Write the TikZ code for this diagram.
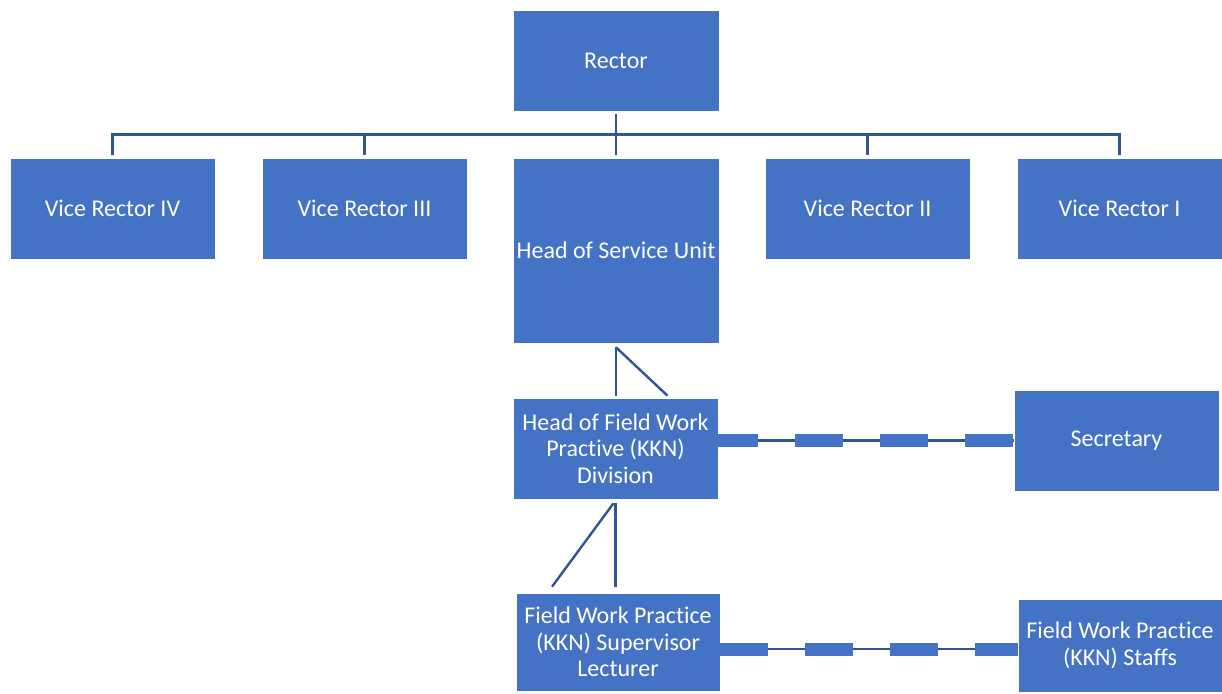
\documentclass[tikz,border=0pt]{standalone}
\usepackage{fontspec}
\setmainfont[Ligatures=NoCommon]{Carlito}
\definecolor{boxblue}{RGB}{68,114,196}
\definecolor{linkblue}{RGB}{47,85,151}
\begin{document}
\begin{tikzpicture}[x=1pt,y=1pt,
  box/.style={fill=boxblue,draw=white,line width=0.6pt,inner sep=0pt,align=center,
    text=white,font=\fontsize{24}{26.5}\selectfont},
  conn/.style={draw=linkblue,line width=2.8pt},
  thinlink/.style={draw=linkblue,line width=2.4pt},
  thicklink/.style={draw=boxblue,line width=13pt,dash pattern=on 48pt off 37pt}
]
\useasboundingbox (0,0) rectangle (1222,-693);
% nodes
\node[box,minimum width=206pt,minimum height=101pt] (rec) at (616,-60.5) {Rector};
\node[box,minimum width=205pt,minimum height=101pt] (vr4) at (112.5,-208.5) {Vice Rector IV};
\node[box,minimum width=205pt,minimum height=101pt] (vr3) at (364.5,-208.5) {Vice Rector III};
\node[box,minimum width=206pt,minimum height=185pt] (hsu) at (616,-250.5) {Head of Service Unit};
\node[box,minimum width=205pt,minimum height=101pt] (vr2) at (867.5,-208.5) {Vice Rector II};
\node[box,minimum width=205pt,minimum height=101pt] (vr1) at (1119.5,-208.5) {Vice Rector I};
\node[box,minimum width=205pt,minimum height=101pt] (hfw) at (615.5,-448.5) {Head of Field Work\\Practive (KKN)\\Division};
\node[box,minimum width=205pt,minimum height=101pt] (sec) at (1116.5,-440.5) {Secretary};
\node[box,minimum width=204pt,minimum height=98pt] (sup) at (618,-642) {Field Work Practice\\(KKN) Supervisor\\Lecturer};
\node[box,minimum width=204pt,minimum height=93pt] (stf) at (1120,-645.5) {Field Work Practice\\(KKN) Staffs};
% tree connectors
\coordinate (busL) at ([yshift=23pt]vr4.north);
\coordinate (busR) at ([yshift=23pt]vr1.north);
\draw[conn] ([yshift=3pt]vr4.north) -- (busL) -- (busR) -- ([yshift=3pt]vr1.north);
\draw[conn] ([yshift=3pt]vr3.north) -- (vr3.north |- busL);
\draw[conn] ([yshift=3pt]vr2.north) -- (vr2.north |- busL);
\draw[conn] ([yshift=-3pt]rec.south) -- ([yshift=3pt]hsu.north);
% service unit to field work head
\coordinate (hsuB) at ([yshift=-4pt]hsu.south);
\draw[conn,line width=2.4pt] (hsuB) -- ([yshift=2pt]hfw.north -| hsuB);
\draw[conn,line width=2.4pt] (hsuB) -- ([xshift=52pt,yshift=2pt]hfw.north);
% field work head to supervisor
\coordinate (hfwB) at ([yshift=-4pt]hfw.south);
\draw[conn,line width=2.4pt] (hfwB) -- ([yshift=6pt]sup.north -| hfwB);
\draw[conn,line width=2.4pt] ([xshift=-2pt]hfwB) -- ([xshift=-66pt,yshift=6pt]sup.north);
% dashed links
\draw[thinlink] (hfw.east |- sec.west) -- (sec.west);
\draw[thicklink,dash phase=8pt] (hfw.east |- sec.west) -- (sec.west);
\draw[thinlink] ([yshift=-7pt]sup.east) -- ([yshift=-3.5pt]stf.west);
\draw[thicklink] ([yshift=-7pt]sup.east) -- ([yshift=-3.5pt]stf.west);
\end{tikzpicture}
\end{document}
